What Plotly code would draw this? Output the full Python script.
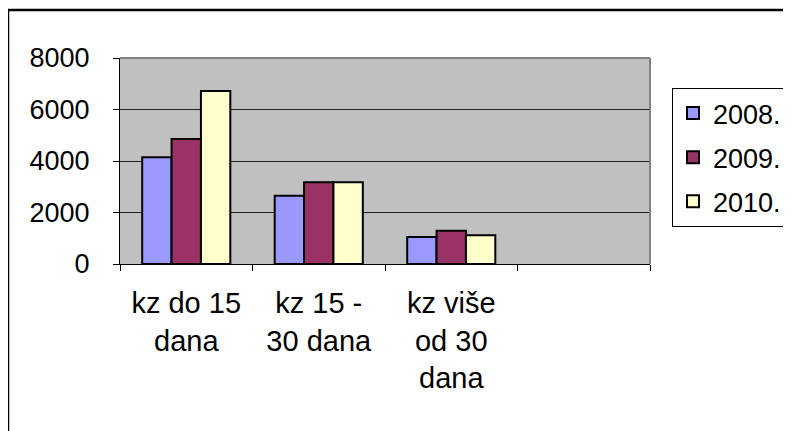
import plotly.graph_objects as go

categories = ["kz do 15<br>dana", "kz 15 -<br>30 dana", "kz više<br>od 30<br>dana", " "]
series_names = ["2008.", "2009.", "2010."]
values_2008 = [4150, 2650, 1050, None]
values_2009 = [4850, 3170, 1290, None]
values_2010 = [6720, 3170, 1120, None]
y_ticks = [0, 2000, 4000, 6000, 8000]

colors = ["#9999FF", "#993366", "#FFFFCC"]
series = [values_2008, values_2009, values_2010]

# the page body adds an 8px margin, so the figure is 8px smaller and shifted
OFF = 8
W, H = 791 - OFF, 431 - OFF
L, R, T, B = 120 - OFF, 650 - OFF, 58 - OFF, 264 - OFF

fig = go.Figure()
for i, (name, vals) in enumerate(zip(series_names, series)):
    fig.add_trace(go.Bar(
        x=categories, y=vals, name=name,
        marker=dict(color=colors[i], line=dict(color="black", width=2)),
        legendgroup=name,
    ))

font = dict(family="Liberation Sans, Arial, sans-serif", size=27, color="black")
xfont = dict(family="Liberation Sans, Arial, sans-serif", size=29, color="black")

fig.update_layout(
    width=W, height=H,
    margin=dict(l=L, r=W - R, t=T, b=H - B, pad=0, autoexpand=False),
    paper_bgcolor="white",
    plot_bgcolor="#C0C0C0",
    barmode="group",
    bargap=0.335,
    bargroupgap=0,
    font=font,
    showlegend=True,
    legend=dict(
        xref="container", yref="container",
        x=(672 - OFF) / W, y=1 - (88 - OFF) / H,
        xanchor="left", yanchor="top",
        bordercolor="black", borderwidth=1, bgcolor="white",
        font=font, tracegroupgap=6, traceorder="grouped",
        itemwidth=30,
    ),
    xaxis=dict(
        type="category", categoryorder="array", categoryarray=categories,
        range=[-0.5, 3.5],
        showline=True, linecolor="black", linewidth=1,
        ticks="outside", ticklen=6, tickcolor="black", tickson="boundaries",
        showgrid=False, tickfont=xfont, ticklabelstandoff=13,
        automargin=False,
    ),
    yaxis=dict(
        range=[0, 8000], tickvals=y_ticks,
        showline=True, linecolor="black", linewidth=1,
        ticks="outside", ticklen=6, tickcolor="black",
        showgrid=True, gridcolor="#222222", gridwidth=1,
        zeroline=False, tickfont=font, ticklabelstandoff=18,
        automargin=False,
    ),
    shapes=[
        dict(type="rect", xref="paper", yref="paper",
             x0=(8 - 120) / (R - L), x1=2.0, y0=-2.0, y1=(264 - 10) / (B - T),
             line=dict(color="black", width=2.5), fillcolor="rgba(0,0,0,0)", layer="below"),
        dict(type="line", xref="paper", yref="paper", x0=0, x1=1, y0=1, y1=1,
             line=dict(color="#808080", width=2)),
        dict(type="line", xref="paper", yref="paper", x0=1, x1=1, y0=0, y1=1,
             line=dict(color="#808080", width=2)),
    ],
)

fig.write_html("out.html")
